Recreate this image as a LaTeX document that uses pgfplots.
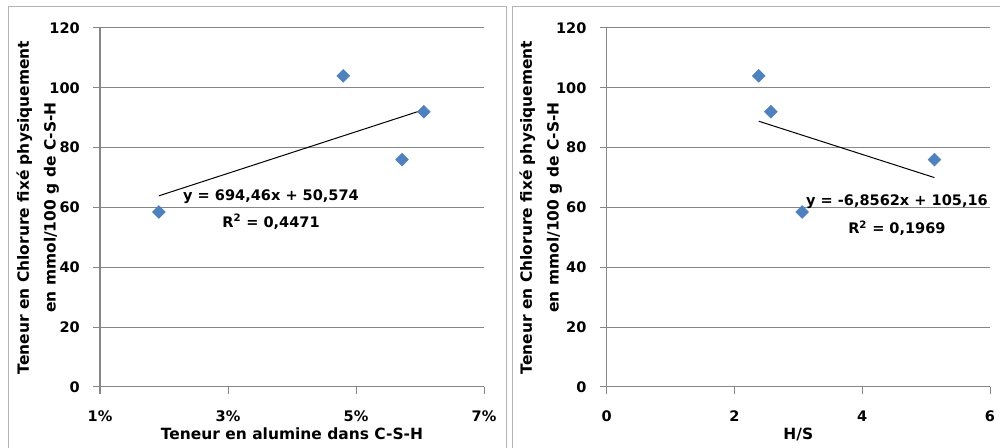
\documentclass[border=0pt]{standalone}
\usepackage{fontspec}
\setmainfont{DejaVu Sans}
\usepackage{pgfplots}
\usepackage{pgfplotstable}
\pgfplotsset{compat=1.18}
\definecolor{mblue}{HTML}{4F81BD}
\definecolor{gridgray}{HTML}{868686}
\definecolor{panelgray}{HTML}{B4B4B4}
\newcommand{\ff}{\fontsize{10.9}{13}\selectfont\bfseries}
\pgfplotstableread{
x y
0.0192 58.5
0.0480 104
0.0572 76
0.0606 92
}\alumine
\pgfplotstableread{
x y
2.38 104
2.57 92
3.06 58.5
5.13 76
}\hs
\pgfplotsset{
 panel/.style={
  scale only axis, height=269.25pt, ymin=0, ymax=120, ytick={0,20,...,120},
  axis lines*=left, axis line style={gridgray, line width=0.75pt},
  tick style={gridgray, line width=0.75pt}, tick align=outside, major tick length=5.25pt,
  ymajorgrids, grid style={gridgray, line width=0.75pt},
  font=\ff,
  ticklabel style={font=\ff},
  /pgf/number format/assume math mode=true,
  yticklabel style={anchor=east, inner sep=0pt, xshift=-9.75pt},
  xticklabel style={anchor=base, inner sep=0pt, yshift=-20.5pt},
  ylabel style={anchor=center, align=center, font=\fontsize{11.6}{20}\selectfont\bfseries},
  xlabel style={anchor=base, inner sep=0pt, font=\fontsize{11.6}{14}\selectfont\bfseries},
  clip=false,
 },
 pts/.style={only marks, mark=square*, mark size=3.4pt, mark options={rotate=45, fill=mblue, draw=mblue}},
}
\begin{document}
\begin{tikzpicture}
\path[use as bounding box] (0,0) rectangle (750pt,336pt);
\draw[panelgray, line width=0.75pt] (6.2pt,331pt) rectangle (379.5pt,-5pt);
\draw[panelgray, line width=0.75pt] (384.5pt,330.75pt) rectangle (755pt,-5pt);
\begin{axis}[panel, at={(75pt,45.75pt)}, anchor=south west, width=288pt,
  xmin=0.01, xmax=0.07, xtick={0.01,0.03,0.05,0.07}, xticklabels={1\%,3\%,5\%,7\%},
  xlabel={Teneur en alumine dans C-S-H},
  xlabel style={at={(axis description cs:0.5,-0.146)}},
  ylabel={Teneur en Chlorure fixé physiquement\\en mmol/100 g de C-S-H},
  ylabel style={at={(axis description cs:-0.162,0.5)}}]
\addplot[black, line width=0.75pt] coordinates {(0.0192,63.9) (0.0606,92.7)};
\addplot[pts] table {\alumine};
\node[font=\ff] at (axis cs:0.03672,63.5) {y = 694,46x + 50,574};
\node[font=\ff] at (axis cs:0.03672,55.2) {R\textsuperscript{2} = 0,4471};
\end{axis}
\begin{axis}[panel, at={(455pt,45.75pt)}, anchor=south west, width=287.5pt,
  xmin=0, xmax=6, xtick={0,2,4,6},
  xlabel={H/S},
  xlabel style={at={(axis description cs:0.5,-0.146)}},
  ylabel={Teneur en Chlorure fixé physiquement\\en mmol/100 g de C-S-H},
  ylabel style={at={(axis description cs:-0.172,0.5)}}]
\addplot[black, line width=0.75pt] coordinates {(2.38,88.84) (5.13,70.0)};
\addplot[pts] table {\hs};
\node[font=\ff] at (axis cs:4.543,62.0) {y = -6,8562x + 105,16};
\node[font=\ff] at (axis cs:4.543,53.1) {R\textsuperscript{2} = 0,1969};
\end{axis}
\end{tikzpicture}
\end{document}
